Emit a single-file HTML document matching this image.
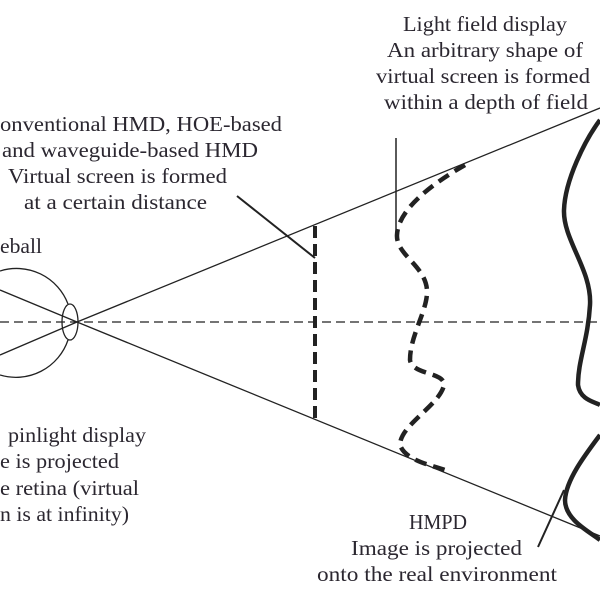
<!DOCTYPE html>
<html><head><style>body{margin:0;background:#fff}svg{display:block}text{font-family:"Liberation Serif",serif;font-size:21px;fill:#2b2730}</style></head>
<body>
<svg width="600" height="600" viewBox="0 0 600 600">
<g fill="none" stroke="#222">
<line x1="0" y1="322" x2="600" y2="322" stroke-width="1.3" stroke-dasharray="9,5"/>
<line x1="0" y1="290" x2="77" y2="322" stroke-width="1.3"/>
<line x1="0" y1="355" x2="77" y2="322" stroke-width="1.3"/>
<line x1="77" y1="322" x2="600" y2="108" stroke-width="1.3"/>
<line x1="77" y1="322" x2="600" y2="536" stroke-width="1.3"/>
<path d="M0 271 A55 55 0 0 1 68 304 M68 340 A55 55 0 0 1 0 375" stroke-width="1.3"/>
<ellipse cx="70" cy="322" rx="8" ry="18" stroke-width="1.3"/>
<line x1="315" y1="226" x2="315" y2="420" stroke-width="4" stroke-dasharray="12,6"/>
<path d="M465 165 C430 185 398 210 397 235 C396 255 425 265 427 290 C428 310 410 335 410 360 C412 375 445 372 444 385 C440 405 400 425 400 445 C405 460 430 465 445 470" stroke-width="4.5" stroke-dasharray="12,7"/>
<path d="M600 120 C585 140 565 180 564 210 C563 240 592 270 590 305 C588 340 578 360 578 385 C580 400 595 402 600 405" stroke-width="4.5"/>
<path d="M600 435 C585 455 566 480 565 500 C565 520 590 532 600 540" stroke-width="4.5"/>
<line x1="396" y1="138" x2="396" y2="235" stroke-width="1.5"/>
<line x1="237" y1="196" x2="315" y2="258" stroke-width="2"/>
<line x1="538" y1="547" x2="564" y2="490" stroke-width="2"/>
</g>
<text x="403" y="31" textLength="164" lengthAdjust="spacingAndGlyphs">Light field display</text>
<text x="387" y="57" textLength="196" lengthAdjust="spacingAndGlyphs">An arbitrary shape of</text>
<text x="376" y="83" textLength="214" lengthAdjust="spacingAndGlyphs">virtual screen is formed</text>
<text x="384" y="109" textLength="204" lengthAdjust="spacingAndGlyphs">within a depth of field</text>
<text x="0" y="131" textLength="282" lengthAdjust="spacingAndGlyphs">onventional HMD, HOE-based</text>
<text x="2" y="157" textLength="256" lengthAdjust="spacingAndGlyphs">and waveguide-based HMD</text>
<text x="8" y="183" textLength="219" lengthAdjust="spacingAndGlyphs">Virtual screen is formed</text>
<text x="24" y="209" textLength="183" lengthAdjust="spacingAndGlyphs">at a certain distance</text>
<text x="409" y="529" textLength="58" lengthAdjust="spacingAndGlyphs">HMPD</text>
<text x="351" y="555" textLength="171" lengthAdjust="spacingAndGlyphs">Image is projected</text>
<text x="317" y="581" textLength="240" lengthAdjust="spacingAndGlyphs">onto the real environment</text>
<text x="0" y="253" textLength="42" lengthAdjust="spacingAndGlyphs">eball</text>
<text x="8" y="442" textLength="138" lengthAdjust="spacingAndGlyphs">pinlight display</text>
<text x="0" y="468" textLength="119" lengthAdjust="spacingAndGlyphs">e is projected</text>
<text x="0" y="495" textLength="139" lengthAdjust="spacingAndGlyphs">e retina (virtual</text>
<text x="0" y="521" textLength="129" lengthAdjust="spacingAndGlyphs">n is at infinity)</text>
</svg>
</body></html>
